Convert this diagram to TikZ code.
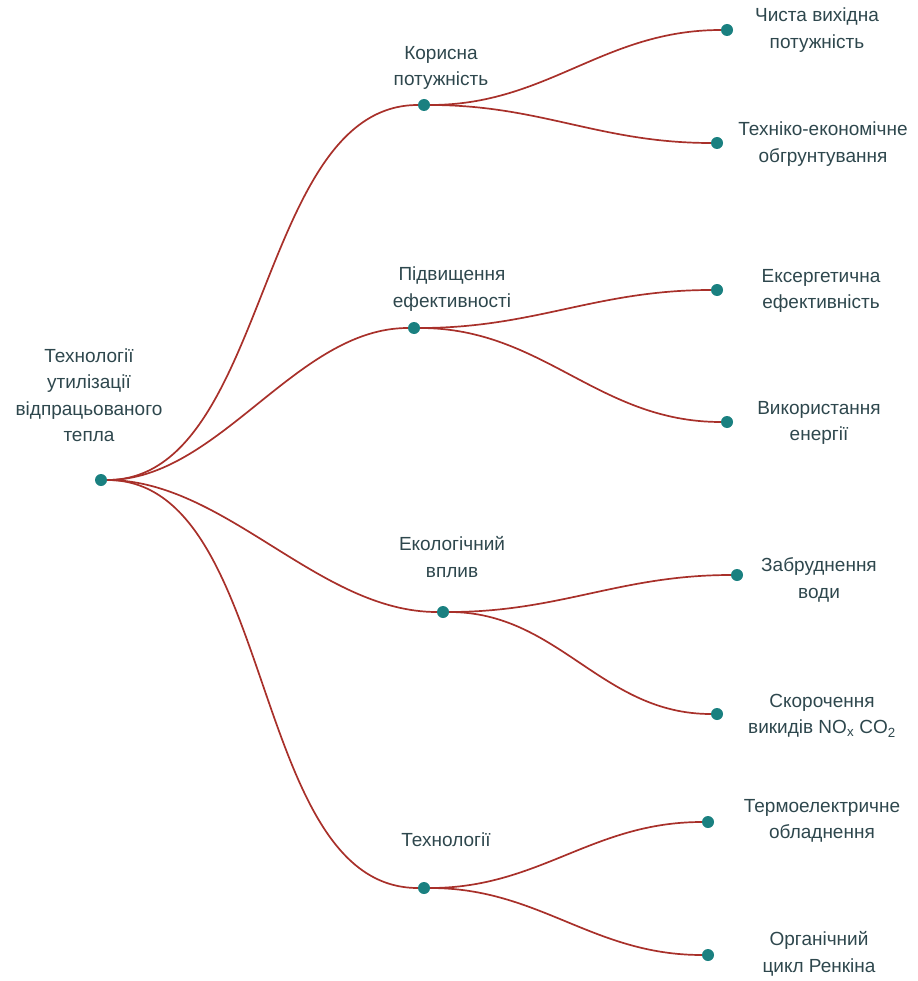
\documentclass[tikz,border=0pt]{standalone}
\usepackage{fontspec}
\setmainfont{Liberation Sans}
\usepackage{xcolor}
\usetikzlibrary{positioning}

\definecolor{dotcol}{HTML}{1A8080}
\definecolor{linecol}{HTML}{A8302A}
\definecolor{txtcol}{HTML}{2E474D}

\tikzset{
  dot/.style={circle, fill=dotcol, inner sep=0pt, minimum size=12pt},
  lbl/.style={align=center, text=txtcol, font=\fontsize{19}{26.5}\selectfont, inner sep=0pt},
  link/.style={draw=linecol, line width=1.7pt}
}

\begin{document}
\begin{tikzpicture}[x=1pt, y=-1pt]
      \useasboundingbox (0,0) rectangle (917,981);

      % dots
      \node[dot] at (101,480) (root) {};
      \node[dot] at (424,105) (kor) {};
      \node[dot] at (414,328) (pidv) {};
      \node[dot] at (443,612) (eko) {};
      \node[dot] at (424,888) (tech) {};

      \node[dot] at (727,30) (chysta) {};
      \node[dot] at (717,143) (tekhn) {};
      \node[dot] at (717,290) (ekserg) {};
      \node[dot] at (727,422) (vykor) {};
      \node[dot] at (737,575) (zabr) {};
      \node[dot] at (717,714) (skor) {};
      \node[dot] at (708,822) (termo) {};
      \node[dot] at (708,955) (organ) {};

      % labels
      \node[lbl] at (89,395) (roottxt) {Технології\\утилізації\\відпрацьованого\\тепла};
      \node[lbl] at (441,68) (kortxt) {Корисна\\потужність};
      \node[lbl] at (452,289) (pidvtxt) {Підвищення\\ефективності};
      \node[lbl] at (452,557) (ekotxt) {Екологічний\\вплив};
      \node[lbl] at (446,840) (techtxt) {Технології};

      \node[lbl] at (817,30) (chystatxt) {Чиста вихідна\\потужність};
      \node[lbl] at (823,144) (tekhntxt) {Техніко-економічне\\обгрунтування};
      \node[lbl] at (821,291) (eksergtxt) {Ексергетична\\ефективність};
      \node[lbl] at (819,423) (vykortxt) {Використання\\енергії};
      \node[lbl] at (819,580) (zabrtxt) {Забруднення\\води};
      \node[lbl] at (822,716) (skortxt) {Скорочення\\викидів NO\textsubscript{x} CO\textsubscript{2}};
      \node[lbl] at (822,821) (termotxt) {Термоелектричне\\обладнення};
      \node[lbl] at (819,954) (organtxt) {Органічний\\цикл Ренкіна};

      % links
      \draw[link] (root) to[out=0, in=180, looseness=0.85] (kor);
      \draw[link] (root) to[out=0, in=180, looseness=0.85] (pidv);
      \draw[link] (root) to[out=0, in=180, looseness=0.85] (eko);
      \draw[link] (root) to[out=0, in=180, looseness=0.85] (tech);

      \draw[link] (kor) to[out=0, in=180] (chysta);
      \draw[link] (kor) to[out=0, in=180] (tekhn);
      \draw[link] (pidv) to[out=0, in=180] (ekserg);
      \draw[link] (pidv) to[out=0, in=180] (vykor);
      \draw[link] (eko) to[out=0, in=180] (zabr);
      \draw[link] (eko) to[out=0, in=180] (skor);
      \draw[link] (tech) to[out=0, in=180] (termo);
      \draw[link] (tech) to[out=0, in=180] (organ);
\end{tikzpicture}
\end{document}
